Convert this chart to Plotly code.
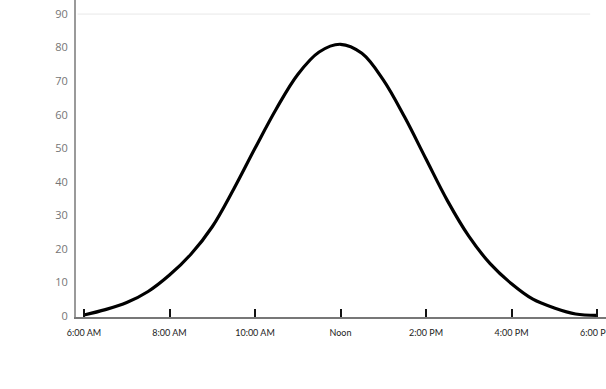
import plotly.graph_objects as go

hours = [6, 6.5, 7, 7.5, 8, 8.5, 9, 9.5, 10, 10.5, 11, 11.5, 12,
         12.5, 13, 13.5, 14, 14.5, 15, 15.5, 16, 16.5, 17, 17.5, 18]
values = [0.3, 1.9, 4.0, 7.3, 12.2, 18.4, 26.6, 37.8, 50.0, 61.8, 72.0, 78.7, 81.0,
          78.3, 70.4, 59.3, 46.8, 34.4, 23.8, 15.6, 9.6, 5.0, 2.4, 0.6, 0.2]

tick_hours = [6, 8, 10, 12, 14, 16, 18]
tick_labels = ["6:00 AM", "8:00 AM", "10:00 AM", "Noon", "2:00 PM", "4:00 PM", "6:00 PM"]
y_ticks = [0, 10, 20, 30, 40, 50, 60, 70, 80, 90]

fig = go.Figure()
fig.add_trace(go.Scatter(
    x=hours, y=values, mode="lines",
    line=dict(color="black", width=3.2, shape="spline", smoothing=1.0),
    hoverinfo="skip", showlegend=False,
))

fig.add_shape(type="line", xref="x", yref="y", x0=5.85, x1=17.84, y0=90, y1=90,
              line=dict(color="#e8e8e8", width=1), layer="below")

fig.update_layout(
    width=606, height=389,
    margin=dict(l=76, r=0, t=0, b=72, autoexpand=False),
    paper_bgcolor="white", plot_bgcolor="white",
    xaxis=dict(
        range=[5.813, 18.21],
        automargin=False,
        tickvals=tick_hours, ticktext=tick_labels,
        showgrid=False, zeroline=False,
        showline=True, linecolor="#777777", linewidth=2,
        ticks="inside", ticklen=8, tickwidth=2, tickcolor="#111111",
        tickfont=dict(family="Lato", size=9, color="#222222"),
        ticklabelstandoff=6,
        ticklabeloverflow="allow",
    ),
    yaxis=dict(
        range=[-0.3, 94.2],
        automargin=False,
        tickvals=y_ticks,
        showgrid=False, zeroline=False,
        showline=True, linecolor="#9a9a9a", linewidth=2,
        ticks="",
        tickfont=dict(family="Open Sans", size=11, color="#757575"),
        ticklabelstandoff=4,
    ),
)

fig.write_html("out.html")
